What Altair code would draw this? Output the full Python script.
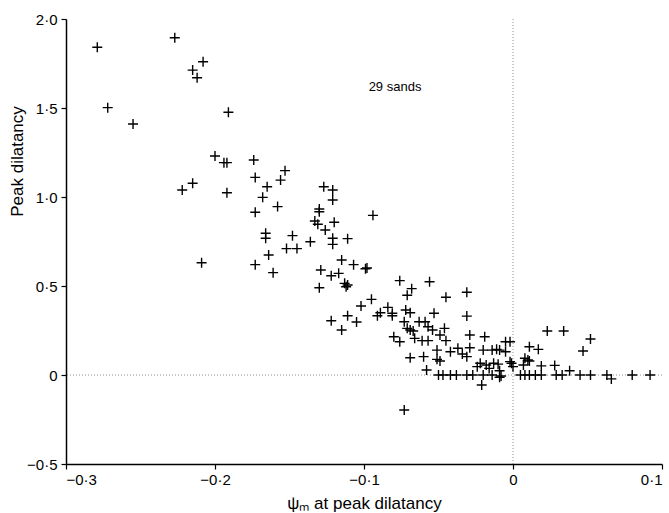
import altair as alt
import pandas as pd

psi_m = [
    -0.279, -0.227, -0.215, -0.208, -0.212, -0.272, -0.255, -0.191, -0.200, -0.194,
    -0.192, -0.215, -0.222, -0.192, -0.174, -0.153, -0.173, -0.156, -0.165, -0.168,
    -0.158, -0.173, -0.127, -0.121, -0.121, -0.130, -0.130, -0.094, -0.133, -0.131,
    -0.120, -0.126, -0.166, -0.166, -0.148, -0.136, -0.121, -0.121, -0.111, -0.152,
    -0.145, -0.164, -0.209, -0.173, -0.161, -0.115, -0.107, -0.099, -0.098, -0.129,
    -0.122, -0.117, -0.113, -0.111, -0.112, -0.130, -0.076, -0.056, -0.068, -0.071,
    -0.045, -0.095, -0.102, -0.111, -0.122, -0.105, -0.031, -0.084, -0.089, -0.081,
    -0.091, -0.081, -0.072, -0.069, -0.053, -0.031, -0.115, -0.073, -0.071, -0.069,
    -0.067, -0.063, -0.059, -0.057, -0.054, -0.046, -0.049, -0.029, -0.019, -0.080,
    -0.076, -0.066, -0.061, -0.057, -0.045, -0.051, -0.042, -0.037, -0.029, -0.034,
    -0.031, -0.020, -0.014, -0.011, -0.069, -0.060, -0.051, -0.049, -0.022, -0.018,
    -0.013, -0.024, -0.016, -0.058, -0.050, -0.047, -0.042, -0.031, -0.027, -0.014,
    -0.021, -0.073, -0.009, -0.005, -0.002, -0.005, 0.023, 0.034, 0.052, 0.047,
    0.011, 0.017, -0.010, -0.002, -0.001, 0.000, 0.008, 0.010, 0.011, 0.007,
    0.019, 0.028, 0.038, -0.009, -0.008, 0.005, 0.008, 0.011, 0.015, 0.019,
    0.029, 0.033, 0.045, 0.052, 0.063, 0.066, 0.080, 0.092, -0.009, -0.038,
    -0.020,
]

peak_dilatancy = [
    1.841, 1.895, 1.713, 1.760, 1.670, 1.502, 1.410, 1.476, 1.230, 1.193,
    1.193, 1.077, 1.039, 1.024, 1.208, 1.148, 1.110, 1.095, 1.058, 0.998,
    0.946, 0.914, 1.058, 1.039, 0.983, 0.933, 0.917, 0.897, 0.865, 0.847,
    0.858, 0.815, 0.796, 0.768, 0.783, 0.749, 0.768, 0.734, 0.766, 0.710,
    0.710, 0.674, 0.631, 0.620, 0.575, 0.646, 0.620, 0.597, 0.601, 0.590,
    0.558, 0.571, 0.515, 0.506, 0.496, 0.490, 0.530, 0.524, 0.485, 0.448,
    0.437, 0.425, 0.388, 0.333, 0.305, 0.298, 0.465, 0.380, 0.350, 0.347,
    0.333, 0.333, 0.365, 0.350, 0.347, 0.331, 0.253, 0.299, 0.262, 0.253,
    0.247, 0.299, 0.299, 0.271, 0.253, 0.262, 0.225, 0.225, 0.215, 0.215,
    0.187, 0.206, 0.193, 0.193, 0.193, 0.140, 0.131, 0.150, 0.153, 0.118,
    0.103, 0.140, 0.140, 0.144, 0.097, 0.103, 0.088, 0.079, 0.066, 0.056,
    0.066, 0.047, 0.037, 0.028, 0.000, 0.000, 0.000, 0.000, 0.000, 0.000,
    -0.056, -0.197, 0.140, 0.187, 0.187, 0.131, 0.247, 0.247, 0.202, 0.135,
    0.159, 0.144, 0.061, 0.075, 0.066, 0.047, 0.094, 0.084, 0.079, 0.056,
    0.051, 0.054, 0.024, 0.024, -0.006, 0.000, 0.000, 0.000, 0.000, 0.000,
    0.000, 0.000, 0.000, 0.000, 0.000, -0.022, 0.000, 0.000, -0.013, 0.000,
    0.000,
]

x_ticks = [-0.3, -0.2, -0.1, 0.0, 0.1]
y_ticks = [-0.5, 0.0, 0.5, 1.0, 1.5, 2.0]
annotation = "29 sands"

df = pd.DataFrame({"psi": psi_m, "dil": peak_dilatancy})

FONT = "Liberation Sans"
label_expr = ("datum.value == 0 ? '0' : replace(replace(format(datum.value, '.1f'), '.', '·'), '-', '−')")

x_enc = alt.X(
    "psi:Q",
    scale=alt.Scale(domain=[-0.3, 0.1], nice=False, zero=False),
    axis=alt.Axis(
        title="ψₘ at peak dilatancy",
        values=x_ticks,
        labelExpr=label_expr,
        titleY=44,
        titleBaseline="alphabetic",
        labelPadding=3,
    ),
)
y_enc = alt.Y(
    "dil:Q",
    scale=alt.Scale(domain=[-0.5, 2.0], nice=False, zero=False),
    axis=alt.Axis(
        title="Peak dilatancy",
        values=y_ticks,
        labelExpr=label_expr,
        titleX=-49,
        titleY=142,
        titleAlign="center",
        titleBaseline="middle",
        labelPadding=4,
    ),
)

points = alt.Chart(df).mark_point(
    shape="M-1,0L1,0M0,-1L0,1",
    size=100,
    filled=False,
    color="black",
    strokeWidth=1.4,
    opacity=1,
).encode(x=x_enc, y=y_enc)

vline = alt.Chart().mark_rule(
    color="#777777", strokeDash=[1, 2], strokeWidth=0.8
).encode(x=alt.datum(0))

hline = alt.Chart().mark_rule(
    color="#777777", strokeDash=[1, 2], strokeWidth=0.8
).encode(y=alt.datum(0))

label = alt.Chart().mark_text(
    text=annotation, font=FONT, fontSize=13, align="center", baseline="middle", color="black"
).encode(x=alt.value(329), y=alt.value(68))

chart = (
    alt.layer(vline, hline, points, label)
    .properties(
        width=596,
        height=445,
        autosize=alt.AutoSizeParams(type="none"),
        padding={"left": 66, "top": 19, "right": 7, "bottom": 49},
        background="white",
    )
    .configure_view(stroke=None)
    .configure_axis(
        grid=False,
        domainColor="black",
        domainWidth=1.5,
        tickColor="black",
        tickSize=5,
        tickWidth=1.2,
        labelFont=FONT,
        labelFontSize=15,
        labelColor="black",
        titleFont=FONT,
        titleFontSize=17,
        titleFontWeight="normal",
        titleColor="black",
    )
)

chart.save("out.html", embed_options={"renderer": "svg", "actions": False})
